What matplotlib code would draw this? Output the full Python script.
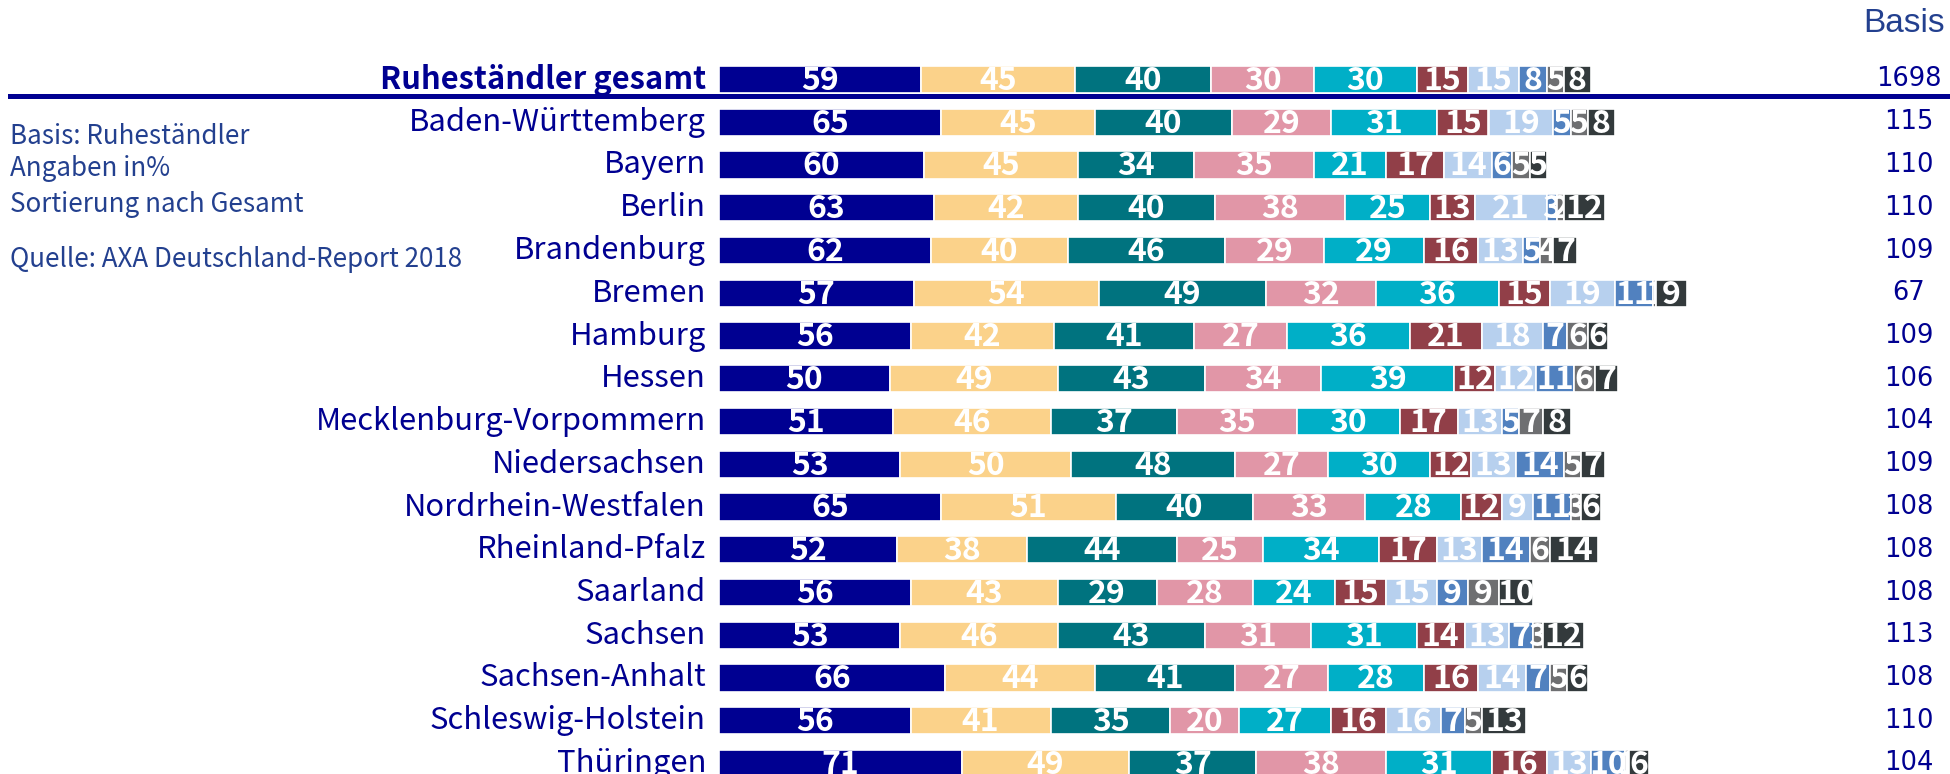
import matplotlib
matplotlib.use("Agg")
import matplotlib.pyplot as plt
from matplotlib.transforms import blended_transform_factory
from matplotlib.lines import Line2D

plt.rcParams['font.family'] = ['Noto Sans CJK SC', 'DejaVu Sans']

regions = ["Ruheständler gesamt", "Baden-Württemberg", "Bayern", "Berlin",
           "Brandenburg", "Bremen", "Hamburg", "Hessen",
           "Mecklenburg-Vorpommern", "Niedersachsen", "Nordrhein-Westfalen",
           "Rheinland-Pfalz", "Saarland", "Sachsen", "Sachsen-Anhalt",
           "Schleswig-Holstein", "Thüringen"]

basis = [1698, 115, 110, 110, 109, 67, 109, 106, 104, 109, 108, 108, 108,
         113, 108, 110, 104]

s1 = [59, 65, 60, 63, 62, 57, 56, 50, 51, 53, 65, 52, 56, 53, 66, 56, 71]
s2 = [45, 45, 45, 42, 40, 54, 42, 49, 46, 50, 51, 38, 43, 46, 44, 41, 49]
s3 = [40, 40, 34, 40, 46, 49, 41, 43, 37, 48, 40, 44, 29, 43, 41, 35, 37]
s4 = [30, 29, 35, 38, 29, 32, 27, 34, 35, 27, 33, 25, 28, 31, 27, 20, 38]
s5 = [30, 31, 21, 25, 29, 36, 36, 39, 30, 30, 28, 34, 24, 31, 28, 27, 31]
s6 = [15, 15, 17, 13, 16, 15, 21, 12, 17, 12, 12, 17, 15, 14, 16, 16, 16]
s7 = [15, 19, 14, 21, 13, 19, 18, 12, 13, 13, 9, 13, 15, 13, 14, 16, 13]
s8 = [8, 5, 6, 3, 5, 11, 7, 11, 5, 14, 11, 14, 9, 7, 7, 7, 10]
s9 = [5, 5, 5, 2, 4, 1, 6, 6, 7, 5, 3, 6, 9, 3, 5, 5, 1]
s10 = [8, 8, 5, 12, 7, 9, 6, 7, 8, 7, 6, 14, 10, 12, 6, 13, 6]

series = [s1, s2, s3, s4, s5, s6, s7, s8, s9, s10]
colors = ["#000091", "#FBD28A", "#00737F", "#E196A7", "#00AFC7",
          "#913F48", "#B7D0EE", "#5181BF", "#6E6F71", "#333A3C"]

NAVY = "#000091"
NOTE = "#23408F"

W, H = 1950, 774
fig = plt.figure(figsize=(W / 100, H / 100), dpi=100)

# bar area: x in percent units, y in row units
x0 = 719
unit = 3.42
row0 = 79.5
row_h = 42.75
ax = fig.add_axes([x0 / W, 0, 1 - x0 / W, 1])
ax.set_xlim(0, (W - x0) / unit)
ax.set_ylim((H - row0) / row_h, -row0 / row_h)
ax.axis("off")

ypos = list(range(len(regions)))
left = [0] * len(regions)
for k, (vals, col) in enumerate(zip(series, colors)):
    ax.barh(ypos, vals, left=left, height=0.64, color=col,
            edgecolor="white", linewidth=1.2, zorder=2 + 2 * k)
    for i, v in enumerate(vals):
        ax.text(left[i] + v / 2, i + 0.03, str(v), ha="center", va="center",
                color="white", fontsize=23, fontweight="bold",
                zorder=3 + 2 * k)
    left = [a + b for a, b in zip(left, vals)]

# row labels and base counts
tr = blended_transform_factory(fig.transFigure, ax.transData)
for i, name in enumerate(regions):
    ax.text(706 / W, i, name, transform=tr, ha="right", va="center",
            color=NAVY, fontsize=22.3,
            fontweight="bold" if i == 0 else "normal", clip_on=False)
    ax.text(1909 / W, i, str(basis[i]), transform=tr, ha="center",
            va="center", color=NAVY, fontsize=18.5, family="DejaVu Sans",
            clip_on=False)

fig.text(1945 / W, 1 - 24 / H, "Basis", ha="right", va="center",
         color=NOTE, fontsize=24, family="Liberation Sans")

# separator under the total row
fig.add_artist(Line2D([10 / W, 1], [1 - 95.5 / H, 1 - 95.5 / H],
                      color=NAVY, linewidth=3.6))

notes = [("Basis: Ruheständler", 136), ("Angaben in%", 168),
         ("Sortierung nach Gesamt", 204),
         ("Quelle: AXA Deutschland-Report 2018", 259)]
for txt, yp in notes:
    fig.text(10 / W, 1 - yp / H, txt, ha="left", va="center",
             color=NOTE, fontsize=18.7)

fig.savefig("out.png", dpi=100)
